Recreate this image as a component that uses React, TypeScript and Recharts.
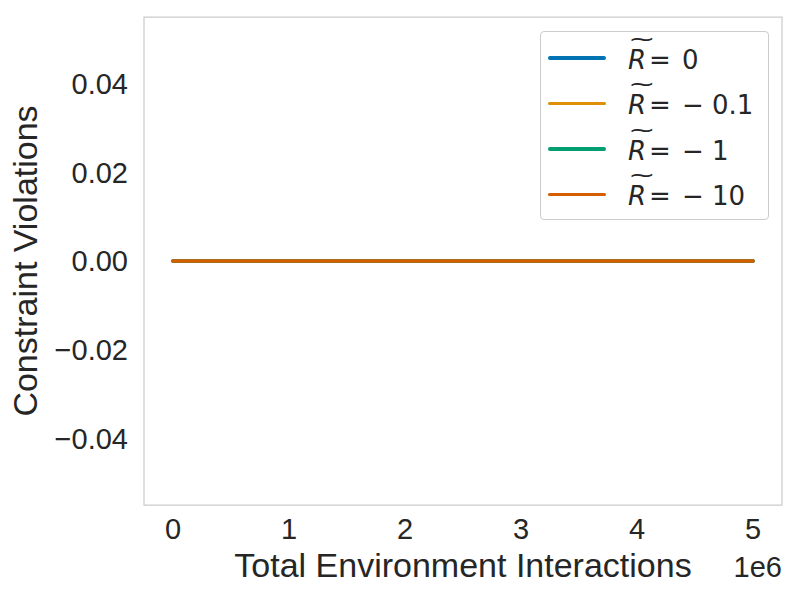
import { LineChart, Line, XAxis, YAxis, ReferenceArea, Label } from "recharts";

const steps = [0, 1000000, 2000000, 3000000, 4000000, 5000000];
const r0 = [0, 0, 0, 0, 0, 0];
const rNeg01 = [0, 0, 0, 0, 0, 0];
const rNeg1 = [0, 0, 0, 0, 0, 0];
const rNeg10 = [0, 0, 0, 0, 0, 0];

const xTicks = [0, 1000000, 2000000, 3000000, 4000000, 5000000];
const yTicks = [-0.04, -0.02, 0, 0.02, 0.04];

const seriesNames = ["0", "\u2212\u00a00.1", "\u2212\u00a01", "\u2212\u00a010"];
const colors = ["#0173b2", "#de8f05", "#029e73", "#d55e00"];

const data = steps.map((s, i) => ({
  step: s,
  r0: r0[i],
  rNeg01: rNeg01[i],
  rNeg1: rNeg1[i],
  rNeg10: rNeg10[i],
}));

const keys = ["r0", "rNeg01", "rNeg1", "rNeg10"];

const tickFont = { fontFamily: "Liberation Sans, Arial, sans-serif", fontSize: 29, fill: "#262626" };
const labelFont = { ...tickFont, fontSize: 34 };

const fmtY = (v: number) => (v < 0 ? "\u2212" + Math.abs(v).toFixed(2) : v.toFixed(2));

function LegendBox() {
  return (
    <div
      style={{
        position: "absolute",
        left: 540,
        top: 31,
        width: 227,
        height: 187,
        border: "1px solid #cccccc",
        borderRadius: 4,
        background: "rgba(255,255,255,0.8)",
        fontFamily: "DejaVu Sans, sans-serif",
        fontSize: 26,
        color: "#262626",
      }}
    >
      {seriesNames.map((name, i) => (
        <div key={name} style={{ display: "flex", alignItems: "center", height: 45.5, marginTop: i === 0 ? 3 : 0 }}>
          <div style={{ width: 58, height: 3.5, borderRadius: 2, background: colors[i], marginLeft: 7, marginRight: 22 }} />
          <span style={{ position: "relative", fontStyle: "italic", marginTop: 4 }}>
            R
            <span
              style={{
                position: "absolute",
                left: 0,
                top: -19,
                fontStyle: "normal",
                fontSize: 22,
                transform: "scaleX(1.5)",
                transformOrigin: "left",
              }}
            >
              ~
            </span>
          </span>
          <span style={{ marginLeft: 3, marginTop: 4 }}>=</span>
          <span style={{ marginLeft: 11, marginTop: 4 }}>{name}</span>
        </div>
      ))}
    </div>
  );
}

export default function App() {
  return (
    <div style={{ position: "absolute", left: 0, top: 0, width: 800, height: 600, background: "#fff" }}>
      <LineChart width={800} height={600} data={data} margin={{ top: 17, right: 18, bottom: 0, left: 0 }}>
        <XAxis
          dataKey="step"
          type="number"
          domain={[-250000, 5250000]}
          ticks={xTicks}
          tickFormatter={(v: number) => String(v / 1000000)}
          axisLine={false}
          tickLine={false}
          tickSize={0}
          tickMargin={13}
          height={95}
          tick={tickFont}
          allowDataOverflow
        >
          <Label
            content={({ viewBox }: any) => (
              <g>
                <text
                  x={viewBox.x + viewBox.width / 2}
                  y={viewBox.y + 72}
                  textAnchor="middle"
                  style={labelFont}
                  fill="#262626"
                >
                  Total Environment Interactions
                </text>
                <text
                  x={viewBox.x + viewBox.width}
                  y={viewBox.y + 72}
                  textAnchor="end"
                  style={tickFont}
                  fill="#262626"
                >
                  1e6
                </text>
              </g>
            )}
          />
        </XAxis>
        <YAxis
          type="number"
          domain={[-0.055, 0.055]}
          ticks={yTicks}
          tickFormatter={fmtY}
          axisLine={false}
          tickLine={false}
          tickSize={0}
          tickMargin={16}
          width={144}
          tick={tickFont}
          allowDataOverflow
        >
          <Label
            content={({ viewBox }: any) => (
              <text
                x={37}
                y={viewBox.y + viewBox.height / 2}
                textAnchor="middle"
                transform={`rotate(-90, 37, ${viewBox.y + viewBox.height / 2})`}
                style={labelFont}
                fill="#262626"
              >
                Constraint Violations
              </text>
            )}
          />
        </YAxis>
        <ReferenceArea
          x1={-250000}
          x2={5250000}
          y1={-0.055}
          y2={0.055}
          fill="none"
          stroke="#cccccc"
          strokeWidth={1.25}
          fillOpacity={0}
          ifOverflow="visible"
        />
        {keys.map((k, i) => (
          <Line
            key={k}
            dataKey={k}
            stroke={colors[i]}
            strokeWidth={3.5}
            strokeLinecap="round"
            dot={false}
            activeDot={false}
            isAnimationActive={false}
          />
        ))}
      </LineChart>
      <LegendBox />
    </div>
  );
}
